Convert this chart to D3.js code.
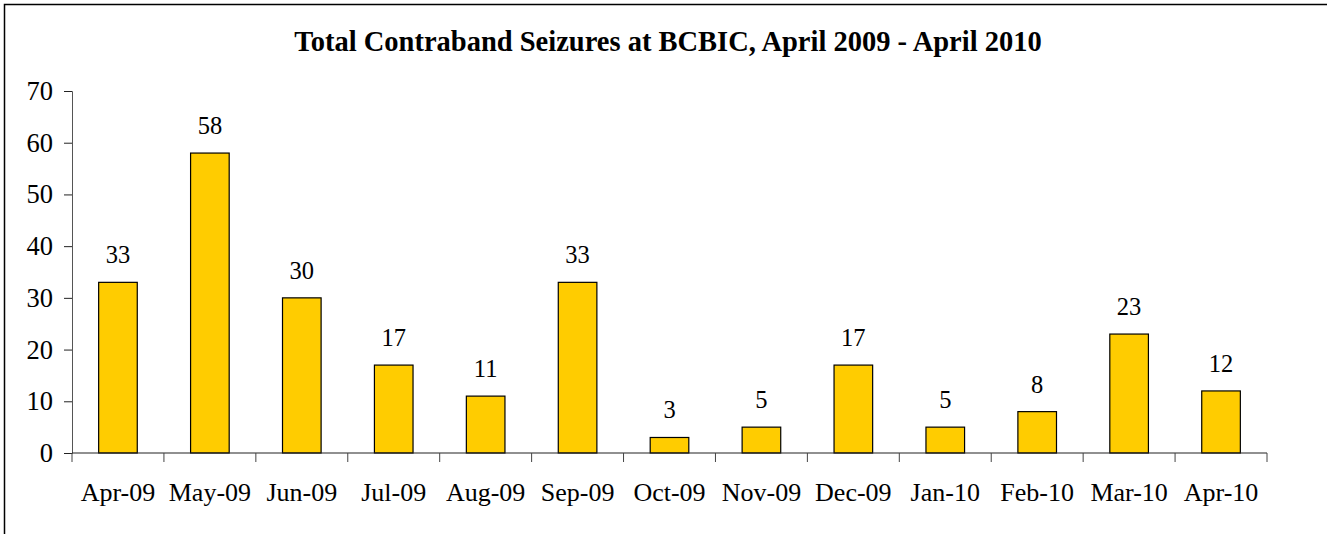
<!DOCTYPE html>
<html>
<head>
<meta charset="utf-8">
<script src="https://cdn.jsdelivr.net/npm/d3@7"></script>
<style>
  body { margin: 0; background: #fff; }
  svg { font-family: "Liberation Serif", "Times New Roman", serif; }
</style>
</head>
<body>
<svg id="chart"></svg>
<script>
var months = ["Apr-09", "May-09", "Jun-09", "Jul-09", "Aug-09", "Sep-09", "Oct-09",
              "Nov-09", "Dec-09", "Jan-10", "Feb-10", "Mar-10", "Apr-10"];
var seizures = [33, 58, 30, 17, 11, 33, 3, 5, 17, 5, 8, 23, 12];
var yTicks = [0, 10, 20, 30, 40, 50, 60, 70];

var width = 1327, height = 534;
var margin = { left: 72, right: 60, top: 91, bottom: 81 };

var svg = d3.select("#chart").attr("width", width).attr("height", height);

// outer frame (only top and left visible)
svg.append("rect")
  .attr("x", 4.5).attr("y", 4.5)
  .attr("width", width + 10).attr("height", height + 10)
  .attr("fill", "none").attr("stroke", "#000").attr("stroke-width", 1.5);

svg.append("text")
  .attr("x", 668).attr("y", 51)
  .attr("text-anchor", "middle")
  .attr("font-size", 28.5).attr("font-weight", "bold")
  .text("Total Contraband Seizures at BCBIC, April 2009 - April 2010");

var x = d3.scaleBand()
  .domain(months)
  .range([margin.left, width - margin.right])
  .paddingInner(0.58).paddingOuter(0.29);

var y = d3.scaleLinear()
  .domain([0, 70])
  .range([height - margin.bottom, margin.top]);

var step = x.step();
var x0 = margin.left, x1 = width - margin.right;

// y axis
var yAxis = svg.append("g")
  .attr("transform", "translate(" + x0 + ",0)")
  .call(d3.axisLeft(y).tickValues(yTicks).tickSize(8).tickPadding(11));
yAxis.select(".domain").attr("stroke", "#555");
yAxis.selectAll(".tick line").attr("stroke", "#222");
yAxis.selectAll("text").attr("font-size", 26.5).attr("fill", "#000")
  .attr("font-family", "Liberation Serif, serif");

// bars
svg.append("g").selectAll("rect")
  .data(seizures)
  .join("rect")
  .attr("x", function(d, i) { return x(months[i]); })
  .attr("y", function(d) { return y(d); })
  .attr("width", x.bandwidth())
  .attr("height", function(d) { return y(0) - y(d); })
  .attr("fill", "#FFCC00")
  .attr("stroke", "#000")
  .attr("stroke-width", 1.2);

// value labels
svg.append("g").selectAll("text")
  .data(seizures)
  .join("text")
  .attr("x", function(d, i) { return x(months[i]) + x.bandwidth() / 2; })
  .attr("y", function(d) { return y(d) - 19; })
  .attr("text-anchor", "middle")
  .attr("font-size", 24.5)
  .text(function(d) { return d; });

// x axis line and boundary ticks
var xg = svg.append("g");
xg.append("line")
  .attr("x1", x0).attr("x2", x1)
  .attr("y1", y(0)).attr("y2", y(0))
  .attr("stroke", "#222").attr("stroke-width", 1.2);
xg.selectAll(".bt")
  .data(d3.range(months.length + 1))
  .join("line")
  .attr("x1", function(i) { return x0 + i * step; })
  .attr("x2", function(i) { return x0 + i * step; })
  .attr("y1", y(0)).attr("y2", y(0) + 9)
  .attr("stroke", "#444");
xg.selectAll("text")
  .data(months)
  .join("text")
  .attr("x", function(d) { return x(d) + x.bandwidth() / 2; })
  .attr("y", y(0) + 48)
  .attr("text-anchor", "middle")
  .attr("font-size", 26)
  .text(function(d) { return d; });
</script>
</body>
</html>
